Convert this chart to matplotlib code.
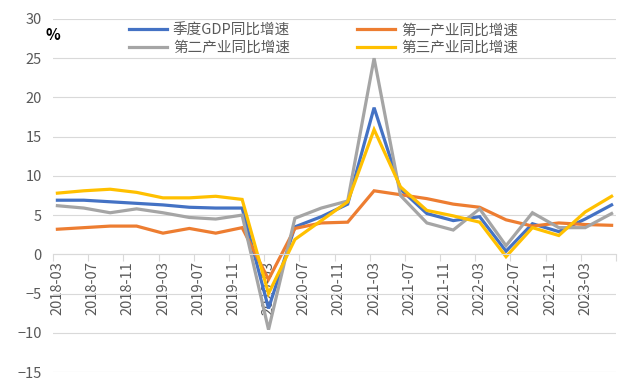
import matplotlib
matplotlib.use("Agg")
import matplotlib.pyplot as plt

plt.rcParams['font.family'] = ['Noto Sans CJK SC', 'DejaVu Sans']

# quarterly points, year-month
quarters = ['2018-03', '2018-06', '2018-09', '2018-12',
            '2019-03', '2019-06', '2019-09', '2019-12',
            '2020-03', '2020-06', '2020-09', '2020-12',
            '2021-03', '2021-06', '2021-09', '2021-12',
            '2022-03', '2022-06', '2022-09', '2022-12',
            '2023-03', '2023-06']
gdp = [6.9, 6.9, 6.7, 6.5, 6.3, 6.0, 5.9, 5.9, -6.9, 3.5, 4.8, 6.4,
       18.7, 8.3, 5.2, 4.3, 4.8, 0.4, 3.9, 2.9, 4.5, 6.3]
primary = [3.2, 3.4, 3.6, 3.6, 2.7, 3.3, 2.7, 3.4, -3.2, 3.3, 4.0, 4.1,
           8.1, 7.6, 7.1, 6.4, 6.0, 4.4, 3.6, 4.0, 3.8, 3.7]
secondary = [6.2, 5.9, 5.3, 5.8, 5.3, 4.7, 4.5, 5.0, -9.6, 4.6, 5.9, 6.8,
             25.0, 7.5, 4.0, 3.1, 5.8, 1.1, 5.3, 3.4, 3.4, 5.2]
tertiary = [7.8, 8.1, 8.3, 7.9, 7.2, 7.2, 7.4, 7.0, -5.0, 1.9, 4.3, 6.7,
            15.9, 8.6, 5.6, 4.9, 4.1, -0.3, 3.4, 2.4, 5.4, 7.4]

labels = ['季度GDP同比增速', '第一产业同比增速', '第二产业同比增速', '第三产业同比增速']
colors = ['#4472C4', '#ED7D31', '#A5A5A5', '#FFC000']


def month_index(s):
    y, m = s.split('-')
    return (int(y) - 2018) * 12 + int(m) - 3


x = [month_index(q) for q in quarters]

fig = plt.figure(figsize=(6.4, 3.88), dpi=100)
ax = fig.add_axes([53 / 640, 1 - 372 / 388, 563 / 640, 353 / 388])

# spine position first (it resets tick settings)
ax.spines['bottom'].set_position(('data', 0))
ax.spines['bottom'].set_color('#D9D9D9')
for sp in ['top', 'right', 'left']:
    ax.spines[sp].set_visible(False)

series = [gdp, primary, secondary, tertiary]
handles = []
for s, c, lab in zip(series, colors, labels):
    h, = ax.plot(x, s, color=c, lw=2.3, label=lab, solid_joinstyle='miter')
    handles.append(h)

ax.set_xlim(-0.5, 63.5)
ax.set_ylim(-15, 30)
ax.set_yticks(range(-15, 31, 5))
ax.yaxis.grid(True, color='#D9D9D9', lw=0.8)
ax.set_axisbelow(True)

# x axis crossing at zero, labels every 4 months
tick_m = list(range(0, 61, 4))
tick_lab = ['%d-%02d' % (2018 + (m + 2) // 12, (m + 2) % 12 + 1) for m in tick_m]
ax.set_xticks(tick_m)
ax.set_xticklabels(tick_lab, rotation=90, fontsize=10.5, color='#595959')
ax.set_xticks([m - 0.5 for m in range(0, 65, 4)], minor=True)
ax.tick_params(axis='x', which='major', length=0, pad=5)
ax.tick_params(axis='x', which='minor', length=5, color='#D9D9D9', width=0.8)
ax.tick_params(axis='y', length=0, labelsize=10.5, labelcolor='#595959', pad=8)

fig.text(45 / 640, 1 - 35 / 388, '%', fontsize=11, fontweight='bold',
         color='black', va='center')

order = [0, 2, 1, 3]
fig.legend([handles[i] for i in order], [labels[i] for i in order],
           ncol=2, loc='upper left', bbox_to_anchor=(116 / 640, 1 - 10 / 388),
           frameon=False, fontsize=10.5, handlelength=2.6, handletextpad=0.4,
           columnspacing=4.6, labelspacing=0.25, labelcolor='#595959')

fig.savefig('out.png', dpi=100)
